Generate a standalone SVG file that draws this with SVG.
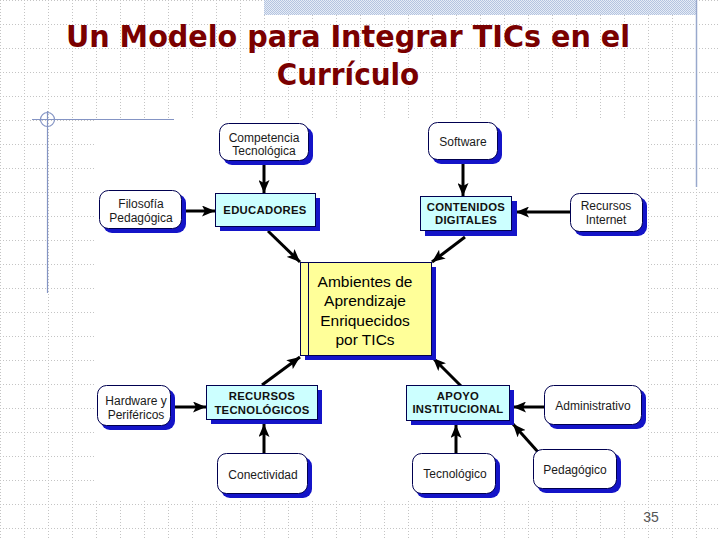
<svg xmlns="http://www.w3.org/2000/svg" width="720" height="540" viewBox="0 0 720 540">
<defs>
<pattern id="grid" x="0" y="0" width="24" height="24" patternUnits="userSpaceOnUse">
<line x1="0" y1="0.5" x2="24" y2="0.5" stroke="#c4c4c4" stroke-width="1" stroke-dasharray="1 2"/>
<line x1="0.5" y1="0" x2="0.5" y2="24" stroke="#c4c4c4" stroke-width="1" stroke-dasharray="1 2"/>
</pattern>
<pattern id="dither" x="0" y="0" width="2" height="2" patternUnits="userSpaceOnUse">
<rect width="2" height="2" fill="#e6ecf6"/>
<rect width="1" height="1" fill="#b4c4e0"/>
<rect x="1" y="1" width="1" height="1" fill="#b4c4e0"/>
</pattern>
<marker id="ah" markerUnits="userSpaceOnUse" markerWidth="14" markerHeight="11" refX="13" refY="5.5" orient="auto">
<path d="M0,0 L13,5.5 L0,11 L3,5.5 z" fill="#000"/>
</marker>
<style>
.sh{fill:#1414c8}
.rn{fill:#fff;stroke:#000050;stroke-width:1}
.cn{fill:#ccffff;stroke:#000050;stroke-width:1}
.t{font-family:"Liberation Sans",Arial,sans-serif;font-size:12px;fill:#1a1a1a;text-anchor:middle}
.b{font-family:"Liberation Sans",Arial,sans-serif;font-size:11.3px;font-weight:bold;fill:#111;text-anchor:middle;letter-spacing:0.3px}
.c{font-family:"Liberation Sans",Arial,sans-serif;font-size:15.5px;fill:#000;text-anchor:middle}
.ttl{font-family:"DejaVu Sans Condensed","DejaVu Sans",sans-serif;font-size:31px;font-weight:bold;fill:#7a0000;text-anchor:middle}
.con line{stroke:#000;stroke-width:3;marker-end:url(#ah)}
</style>
</defs>
<rect width="720" height="540" fill="#fff"/>
<rect width="720" height="540" fill="url(#grid)"/>
<rect x="264" y="0" width="432" height="15" fill="url(#dither)"/>
<line x1="696.5" y1="0" x2="696.5" y2="187" stroke="#98a8cc" stroke-width="1.5"/>
<text class="ttl" x="348" y="47" textLength="564" lengthAdjust="spacingAndGlyphs">Un Modelo para Integrar TICs en el</text>
<text class="ttl" x="348" y="85">Currículo</text>
<rect x="96" y="118" width="552" height="383" fill="#fff"/>
<g id="corner-deco" stroke="#8494c4" stroke-width="1.2" fill="none">
<line x1="32" y1="119.5" x2="174" y2="119.5"/>
<line x1="47.5" y1="111" x2="47.5" y2="293"/>
<circle cx="47.5" cy="119.5" r="7"/>
</g>

<g id="connectors" class="con">
<line x1="264" y1="163" x2="264" y2="193"/>
<line x1="185" y1="211" x2="215" y2="211"/>
<line x1="463" y1="162" x2="463" y2="196"/>
<line x1="570" y1="212" x2="516" y2="212"/>
<line x1="268" y1="231" x2="300" y2="262"/>
<line x1="465" y1="237" x2="432" y2="262"/>
<line x1="262" y1="385" x2="300" y2="357"/>
<line x1="461" y1="386" x2="433" y2="358"/>
<line x1="173" y1="407" x2="206" y2="407"/>
<line x1="264" y1="453" x2="264" y2="424"/>
<line x1="544" y1="407" x2="513" y2="407"/>
<line x1="456" y1="453" x2="456" y2="425"/>
<line x1="538" y1="452" x2="513" y2="424"/>
</g>

<g id="competencia">
<rect class="sh" x="223" y="127" width="90" height="38" rx="9"/>
<rect class="rn" x="219.5" y="123.5" width="89" height="37" rx="9"/>
<text class="t" x="264" y="142">Competencia</text>
<text class="t" x="264" y="155">Tecnológica</text>
</g>
<g id="software">
<rect class="sh" x="432" y="126" width="70" height="38" rx="9"/>
<rect class="rn" x="428.5" y="122.5" width="69" height="37" rx="9"/>
<text class="t" x="463" y="146">Software</text>
</g>
<g id="filosofia">
<rect class="sh" x="103" y="194" width="83" height="39" rx="9"/>
<rect class="rn" x="99.5" y="190.5" width="82" height="38" rx="9"/>
<text class="t" x="141" y="208">Filosofía</text>
<text class="t" x="141" y="222">Pedagógica</text>
</g>
<g id="educadores">
<rect class="sh" x="220" y="198" width="100" height="33"/>
<rect class="cn" x="215.5" y="193.5" width="100" height="33"/>
<text class="b" x="265" y="214">EDUCADORES</text>
</g>
<g id="contenidos">
<rect class="sh" x="425" y="201" width="92" height="35"/>
<rect class="cn" x="420.5" y="196.5" width="91" height="34"/>
<text class="b" x="466" y="211">CONTENIDOS</text>
<text class="b" x="466" y="224">DIGITALES</text>
</g>
<g id="recursos-internet">
<rect class="sh" x="574" y="197" width="73" height="39" rx="9"/>
<rect class="rn" x="570.5" y="193.5" width="72" height="38" rx="9"/>
<text class="t" x="606" y="210">Recursos</text>
<text class="t" x="606" y="224">Internet</text>
</g>
<g id="ambientes">
<rect class="sh" x="305" y="267" width="131" height="93"/>
<rect x="300.5" y="262.5" width="131" height="93" fill="#ffff99" stroke="#000050" stroke-width="1"/>
<line x1="308.5" y1="263" x2="308.5" y2="355" stroke="#000050" stroke-width="1"/>
<text class="c" x="365" y="287">Ambientes de</text>
<text class="c" x="365" y="306">Aprendizaje</text>
<text class="c" x="365" y="326">Enriquecidos</text>
<text class="c" x="365" y="345">por TICs</text>
</g>
<g id="hardware">
<rect class="sh" x="101" y="389" width="74" height="41" rx="9"/>
<rect class="rn" x="97.5" y="385.5" width="73" height="40" rx="9"/>
<text class="t" x="136" y="405">Hardware y</text>
<text class="t" x="136" y="419">Periféricos</text>
</g>
<g id="recursos-tecnologicos">
<rect class="sh" x="211" y="390" width="111" height="34"/>
<rect class="cn" x="206.5" y="385.5" width="111" height="34"/>
<text class="b" x="262" y="400">RECURSOS</text>
<text class="b" x="262" y="414">TECNOLÓGICOS</text>
</g>
<g id="apoyo">
<rect class="sh" x="411" y="390" width="103" height="35"/>
<rect class="cn" x="406.5" y="385.5" width="103" height="35"/>
<text class="b" x="458" y="400">APOYO</text>
<text class="b" x="458" y="413">INSTITUCIONAL</text>
</g>
<g id="administrativo">
<rect class="sh" x="548" y="389" width="98" height="40" rx="9"/>
<rect class="rn" x="544.5" y="385.5" width="97" height="39" rx="9"/>
<text class="t" x="593" y="410">Administrativo</text>
</g>
<g id="conectividad">
<rect class="sh" x="221" y="457" width="91" height="41" rx="9"/>
<rect class="rn" x="217.5" y="453.5" width="90" height="40" rx="9"/>
<text class="t" x="263" y="479">Conectividad</text>
</g>
<g id="tecnologico">
<rect class="sh" x="416" y="457" width="84" height="41" rx="9"/>
<rect class="rn" x="412.5" y="453.5" width="83" height="40" rx="9"/>
<text class="t" x="455" y="478">Tecnológico</text>
</g>
<g id="pedagogico">
<rect class="sh" x="537" y="453" width="84" height="40" rx="9"/>
<rect class="rn" x="533.5" y="449.5" width="83" height="39" rx="9"/>
<text class="t" x="575" y="474">Pedagógico</text>
</g>
<text x="651" y="522" font-family="Liberation Sans, Arial, sans-serif" font-size="14" fill="#555" text-anchor="middle">35</text>
</svg>
